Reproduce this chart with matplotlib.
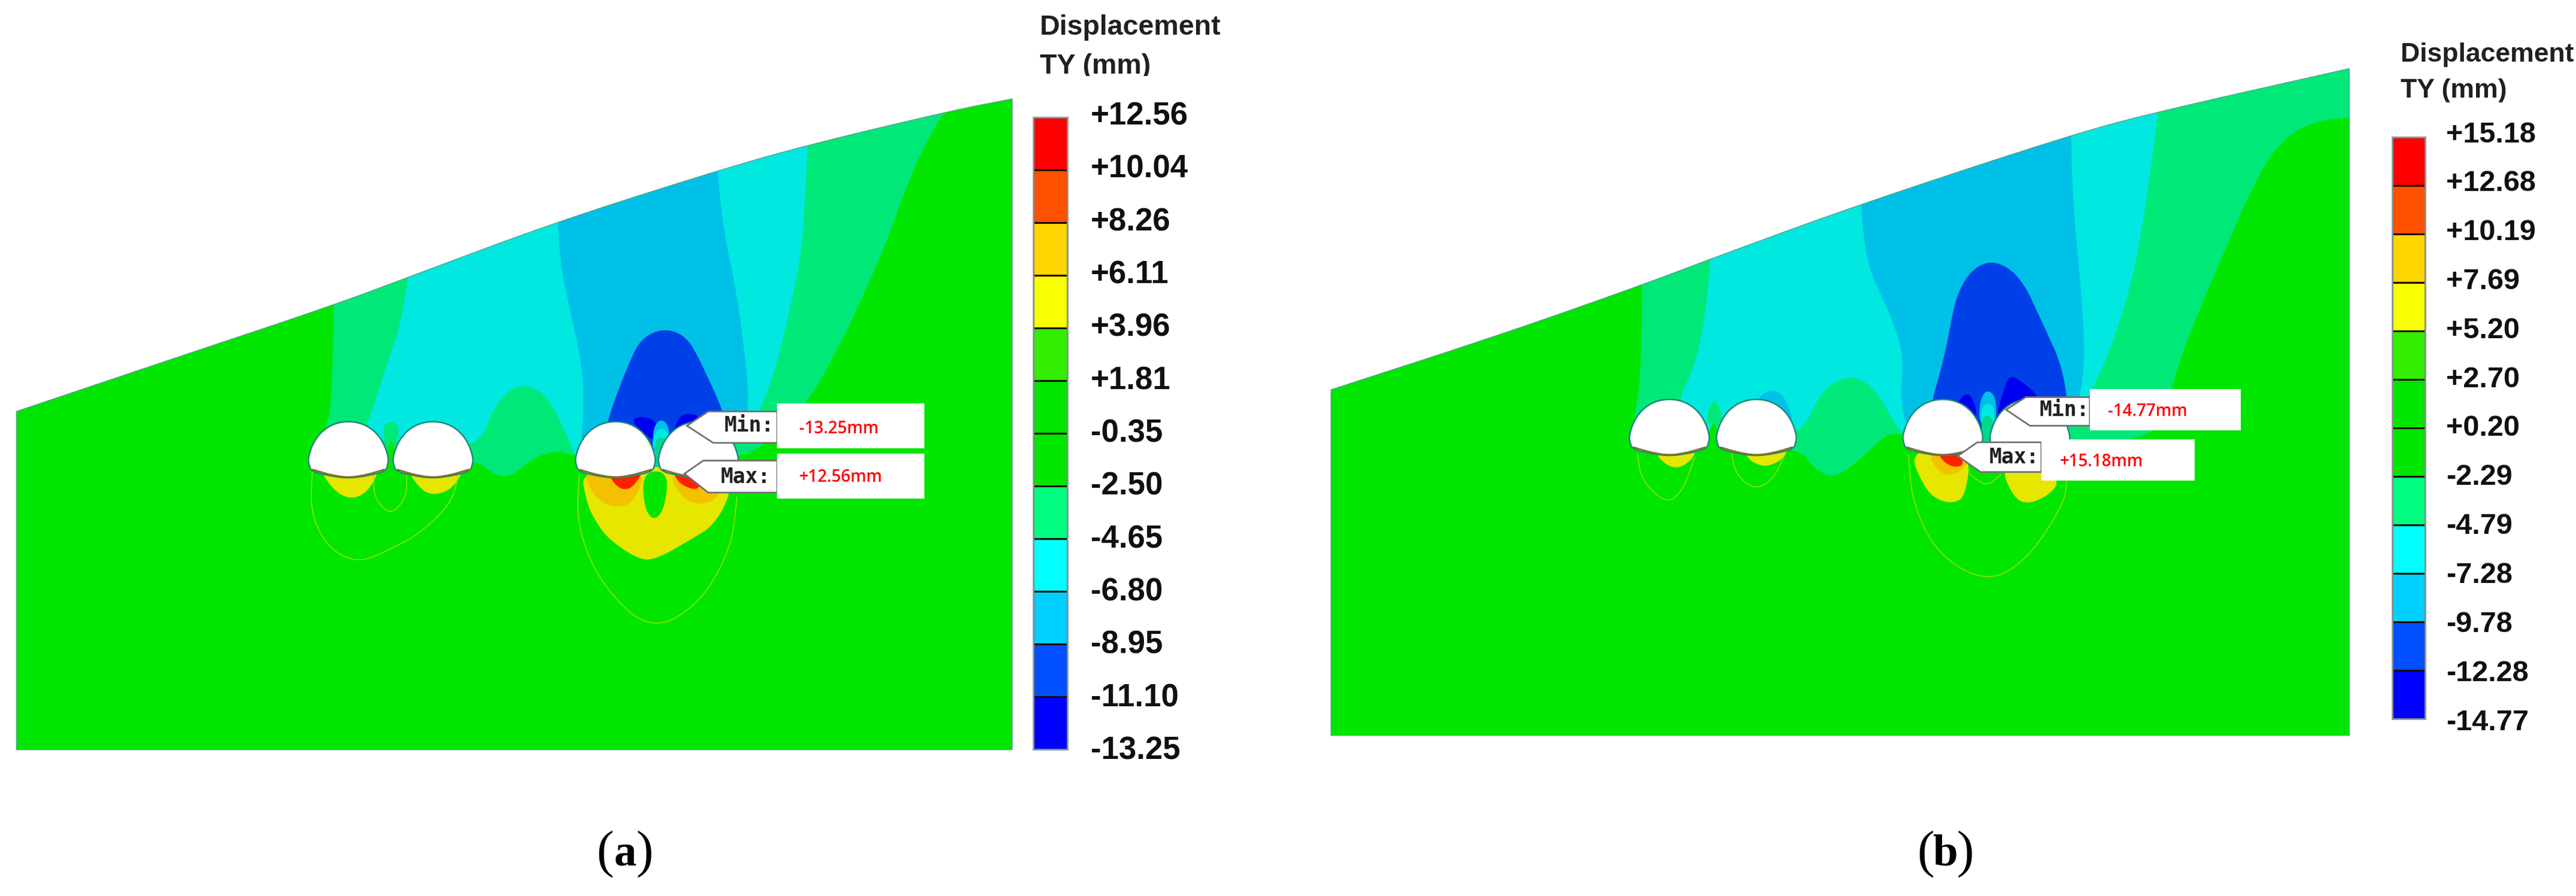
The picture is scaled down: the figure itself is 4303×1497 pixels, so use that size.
import numpy as np
import matplotlib
matplotlib.use('Agg')
import matplotlib.pyplot as plt
from matplotlib.patches import Polygon, Rectangle

# colours of the contour bands, bar top to bottom
band_colours = ['#ff0000', '#ff5000', '#ffd500', '#f8ff00', '#33ee00', '#00e600',
                '#00e600', '#00ff80', '#00ffff', '#00d0ff', '#0050ff', '#0000ff']
levels_a = [12.56, 10.04, 8.26, 6.11, 3.96, 1.81, -0.35, -2.50, -4.65, -6.80, -8.95, -11.10, -13.25]
levels_b = [15.18, 12.68, 10.19, 7.69, 5.20, 2.70, 0.20, -2.29, -4.79, -7.28, -9.78, -12.28, -14.77]

GREEN = '#00e600'
TEAL = '#00e878'
CYAN = '#00e8e0'
SKY = '#00c0e8'
BLUE = '#0040e8'
DARK = '#0000f0'
YELLOW = '#e6e600'
ORANGE = '#f5c000'
RED = '#ff2000'

# all outlines, tops run on past the surface and get clipped
surface_a = [(20, 720), (210, 628), (408, 533), (510, 478), (678, 388), (870, 300), (982, 254), (1160, 193), (1232, 173)]
teal_a = [(408, 300), (408, 100), (1190, 50), (1170, 150), (1130, 240), (1105, 320), (1080, 420), (1050, 520),
          (1020, 610), (985, 700), (945, 760), (900, 808), (700, 800), (680, 788), (650, 800), (622, 835), (600, 830),
          (575, 800), (380, 800), (395, 760), (405, 700)]
cyan_a = [(515, 300), (525, 100), (1000, 60), (985, 200), (980, 350), (975, 450), (960, 550), (945, 640), (930, 700),
          (905, 790), (710, 800), (700, 800), (690, 760), (665, 690), (635, 670), (605, 700), (580, 790), (500, 770),
          (440, 770), (455, 710), (470, 640), (490, 560)]
sky_a = [(678, 300), (678, 150), (868, 80), (870, 250), (880, 400), (895, 500), (905, 600), (912, 700), (905, 780),
         (705, 800), (710, 740), (710, 650), (695, 550), (680, 450)]
blue_a = [(738, 780), (738, 738), (764, 640), (780, 592), (808, 574), (835, 588), (852, 630), (882, 725), (890, 780)]
dark_a = [[(762, 730), (800, 780), (800, 730)], [(815, 775), (825, 732), (836, 722), (855, 730), (860, 775)]]
pillar_sky_a = [(794, 775), (796, 745), (805, 733), (814, 745), (815, 775)]
pillar_cyan_a = [(793, 785), (796, 758), (805, 748), (814, 758), (816, 785)]
pillar_teal_a = [(790, 840), (800, 795), (796, 773), (805, 764), (814, 773), (809, 795), (818, 840)]
blob_a = [(468, 775), (466, 745), (476, 737), (486, 745), (484, 775)]
green_pillar_a = [(466, 840), (472, 785), (476, 768), (481, 785), (488, 840)]
yellow_a = [[(385, 810), (405, 858), (428, 875), (450, 858), (465, 810)],
            [(490, 810), (512, 858), (530, 867), (553, 853), (568, 810)],
            [(706, 815), (714, 880), (724, 910), (740, 943), (778, 980), (800, 978), (842, 943), (868, 920), (888, 870), (890, 820)]]
green_low_a = [(782, 825), (784, 890), (796, 912), (809, 890), (814, 825)]
orange_a = [[(708, 815), (722, 870), (750, 890), (772, 878), (788, 820)],
            [(813, 825), (828, 868), (849, 885), (876, 872), (876, 825)]]
red_a = [[(736, 820), (752, 856), (770, 856), (786, 815)], [(818, 822), (827, 848), (852, 860), (852, 825)]]
contours_a = [[(380, 825), (378, 900), (400, 960), (435, 985), (470, 965), (510, 935), (550, 880), (558, 830)],
              [(455, 830), (455, 870), (475, 903), (495, 870), (495, 830)],
              [(705, 830), (702, 920), (730, 1020), (790, 1105), (850, 1060), (890, 960), (897, 870)]]
tunnels_a = [(424, 801), (527, 801), (749, 801), (850, 801)]

surface_b = [(52, 682), (260, 585), (432, 498), (520, 450), (695, 358), (953, 236), (1060, 195), (1292, 120)]
teal_b = [(432, 300), (432, 60), (1320, 20), (1320, 205), (1292, 205), (1240, 215), (1200, 260), (1170, 340), (1140, 440),
          (1110, 540), (1080, 650), (1062, 770), (950, 770), (750, 762), (730, 757), (700, 800), (665, 838), (640, 820),
          (620, 780), (420, 770), (422, 720), (430, 660)]
cyan_b = [(522, 300), (530, 60), (1070, 40), (1060, 190), (1045, 350), (1030, 480), (1000, 620), (975, 690), (955, 765),
          (750, 762), (740, 745), (715, 680), (685, 655), (650, 680), (620, 775), (480, 750), (475, 700), (495, 640), (510, 540)]
sky_b = [(695, 250), (695, 100), (953, 60), (953, 220), (955, 350), (965, 500), (970, 620), (965, 690), (950, 760),
         (755, 760), (745, 700), (750, 620), (730, 540), (700, 450)]
sky_blob_b = [(565, 720), (572, 695), (590, 680), (607, 698), (617, 750)]
blue_b = [(780, 760), (782, 710), (800, 620), (815, 500), (850, 451), (890, 478), (920, 570), (945, 650), (952, 760)]
dark_b = [[(812, 735), (814, 703), (830, 683), (842, 735)],
          [(860, 740), (870, 688), (878, 654), (897, 672), (915, 695), (915, 740)]]
pillar_sky_b = [(841, 745), (842, 700), (851, 681), (862, 695), (862, 745)]
pillar_cyan_b = [(843, 750), (844, 715), (851, 705), (860, 712), (860, 750)]
pillar_teal_b = [(842, 800), (845, 745), (843, 735), (851, 725), (859, 735), (857, 745), (860, 800)]
blob_b = [(510, 745), (510, 720), (518, 698), (528, 720), (527, 745)]
green_pillar_b = [(507, 800), (513, 750), (518, 738), (523, 750), (529, 800)]
green_under_b = [(828, 820), (850, 856), (872, 820)]
yellow_b = [[(445, 780), (452, 805), (472, 822), (492, 805), (498, 780)],
            [(553, 780), (560, 805), (580, 818), (602, 805), (610, 780)],
            [(754, 785), (776, 858), (794, 877), (810, 880), (824, 870), (832, 790)],
            [(866, 815), (884, 872), (900, 882), (922, 870), (940, 845), (920, 812)]]
orange_b = [[(776, 790), (794, 831), (816, 830), (832, 800)]]
red_b = [[(788, 790), (804, 817), (824, 816), (816, 790)]]
contours_b = [[(425, 795), (430, 840), (460, 882), (480, 860), (495, 800)],
              [(540, 795), (545, 830), (567, 857), (590, 840), (605, 795)],
              [(755, 795), (760, 880), (790, 970), (850, 1020), (900, 980), (945, 880), (948, 840)],
              [(830, 830), (850, 852), (868, 830)]]
tunnels_b = [(464, 762), (570, 762), (797, 762), (903, 762)]

# half of a tunnel, top to bottom, the other half is mirrored
tunnel_half = [(0, -64), (17, -60), (32, -47), (43, -26), (49, 0), (48, 12), (45, 24), (22, 32), (0, 36)]
tunnel_low = [(-43, 22), (-22, 31), (0, 36), (22, 31), (43, 22)]

# name boxes: white plate, arrow outline
min_plate_a = (946, 706, 1125, 785)
min_arrow_a = [(836, 745), (862, 720), (946, 720), (946, 775), (868, 775)]
max_plate_a = (946, 794, 1125, 873)
max_arrow_a = [(833, 829), (856, 806), (946, 806), (946, 862), (862, 862)]
min_plate_b = (976, 681, 1160, 753)
min_arrow_b = [(874, 717), (898, 695), (976, 695), (976, 745), (903, 745)]
max_plate_b = (917, 769, 1104, 841)
max_arrow_b = [(815, 798), (839, 774), (917, 774), (917, 826), (843, 826)]


def chaikin(pts, n=3, closed=True):
    pts = np.array(pts, dtype=float)
    for _ in range(n):
        if closed:
            a, b = pts, np.roll(pts, -1, axis=0)
        else:
            a, b = pts[:-1], pts[1:]
        q = 0.75 * a + 0.25 * b
        r = 0.25 * a + 0.75 * b
        mid = np.empty((len(q) * 2, 2))
        mid[0::2] = q
        mid[1::2] = r
        if closed:
            pts = mid
        else:
            pts = np.vstack([pts[0], mid, pts[-1]])
    return pts


fig = plt.figure(figsize=(43.03, 14.97), dpi=100)
ax = fig.add_axes([0, 0, 1, 1])
ax.set_xlim(0, 4303)
ax.set_ylim(1497, 0)
ax.axis('off')


def draw_panel(x0, xs, surface, right, bottom, regions, contours, tunnels):
    ys = 1497 / 1568

    def tr(pts):
        p = np.array(pts, dtype=float)
        return np.column_stack([x0 + p[:, 0] * xs, p[:, 1] * ys])

    surf = chaikin(surface, n=3, closed=False)
    outline = np.vstack([surf, [(right, bottom), (surface[0][0], bottom)]])
    ground = Polygon(tr(outline), closed=True, facecolor=GREEN, edgecolor='none', zorder=1)
    ax.add_patch(ground)
    for colour, pts in regions:
        p = Polygon(tr(chaikin(pts)), closed=True, facecolor=colour, edgecolor='none', zorder=2)
        ax.add_patch(p)
        p.set_clip_path(ground)
    ax.add_patch(Polygon(tr(outline), closed=True, fill=False, edgecolor='#58a090', lw=1, zorder=3))
    for line in contours:
        xy = tr(chaikin(line, closed=False))
        ax.plot(xy[:, 0], xy[:, 1], color='#a0e400', lw=1, zorder=3)
    right_side = np.array(tunnel_half)
    left_side = right_side[-2:0:-1] * [-1, 1]
    egg = np.vstack([right_side, left_side])
    for cx, cy in tunnels:
        c = chaikin(egg, n=3) + np.array([cx, cy])
        ax.add_patch(Polygon(tr(c), closed=True, facecolor='white', edgecolor='#208878', lw=1.8, zorder=4))
        xy = tr(chaikin(tunnel_low, n=2, closed=False) + np.array([cx, cy - 1]))
        ax.plot(xy[:, 0], xy[:, 1], color='#807028', lw=2, zorder=5)


def label_box(x0, xs, box, tip, name, name_xy, value, value_xy):
    ys = 1497 / 1568
    bx0, by0, bx1, by1 = box
    arrow = np.array(tip, dtype=float)
    arrow = np.column_stack([x0 + arrow[:, 0] * xs, arrow[:, 1] * ys])
    ax.add_patch(Polygon(arrow, closed=True, facecolor='white', edgecolor='#707070', lw=2, zorder=6))
    ax.add_patch(Rectangle((x0 + bx0 * xs, by0 * ys), (bx1 - bx0) * xs, (by1 - by0) * ys,
                           facecolor='white', edgecolor='none', zorder=7))
    ax.text(x0 + name_xy[0] * xs, name_xy[1] * ys, name, family='DejaVu Sans Mono', weight='bold',
            fontsize=25, color='#202020', ha='center', va='center', zorder=8)
    ax.text(x0 + value_xy[0] * xs, value_xy[1] * ys, value, family='Open Sans', weight='semibold',
            fontsize=20, color='#ff0000', ha='center', va='center', zorder=8)


def colour_bar(box, levels, size, label_x, label_top, label_bottom):
    left, top, w, h = box
    cax = fig.add_axes([left / 4303, 1 - (top + h) / 1497, w / 4303, h / 1497])
    n = len(band_colours)
    cax.bar(np.zeros(n), np.ones(n), width=1, bottom=np.arange(n)[::-1], color=band_colours,
            edgecolor='#1a0a00', linewidth=2.2)
    cax.set_xlim(-0.5, 0.5)
    cax.set_ylim(0, n)
    cax.set_xticks([])
    cax.set_yticks([])
    for s in cax.spines.values():
        s.set_color('#8c9898')
        s.set_linewidth(2)
    for v, y in zip(levels, np.linspace(label_top, label_bottom, len(levels))):
        ax.text(label_x, y, '%+.2f' % v, family='Liberation Sans', weight='bold', fontsize=size,
                color='#101010', va='center_baseline')


xs_a = 2152 / 1568
xs_b = 2151 / 1568
regions_a = [(TEAL, teal_a), (CYAN, cyan_a), (SKY, sky_a), (BLUE, blue_a)]
regions_a += [(DARK, p) for p in dark_a]
regions_a += [(SKY, pillar_sky_a), (CYAN, pillar_cyan_a), ('#00d890', pillar_teal_a), (TEAL, blob_a), (GREEN, green_pillar_a)]
regions_a += [(YELLOW, p) for p in yellow_a] + [(GREEN, green_low_a)]
regions_a += [(ORANGE, p) for p in orange_a] + [(RED, p) for p in red_a]
draw_panel(0, xs_a, surface_a, 1232, 1312, regions_a, contours_a, tunnels_a)

regions_b = [(TEAL, teal_b), (CYAN, cyan_b), (SKY, sky_b), (SKY, sky_blob_b), (BLUE, blue_b)]
regions_b += [(DARK, p) for p in dark_b]
regions_b += [(SKY, pillar_sky_b), (CYAN, pillar_cyan_b), ('#00d890', pillar_teal_b), (TEAL, blob_b), (GREEN, green_pillar_b)]
regions_b += [(YELLOW, p) for p in yellow_b] + [(GREEN, green_under_b)]
regions_b += [(ORANGE, p) for p in orange_b] + [(RED, p) for p in red_b]
draw_panel(2152, xs_b, surface_b, 1292, 1287, regions_b, contours_b, tunnels_b)

label_box(0, xs_a, min_plate_a, min_arrow_a, 'Min:', (912, 745), '-13.25mm', (1021, 750))
label_box(0, xs_a, max_plate_a, max_arrow_a, 'Max:', (907, 834), '+12.56mm', (1023, 835))
label_box(2152, xs_b, min_plate_b, min_arrow_b, 'Min:', (945, 718), '-14.77mm', (1046, 720))
label_box(2152, xs_b, max_plate_b, max_arrow_b, 'Max:', (884, 800), '+15.18mm', (990, 808))

colour_bar((1726, 196, 57, 1056), levels_a, 38, 1822, 189, 1249)
colour_bar((3996, 229, 55, 972), levels_b, 35, 4086, 220, 1202)

# legend heads, the second line is cut off in the picture
ax.text(1737, 46, 'Displacement', family='Liberation Sans', weight='bold', fontsize=33.5, va='center', color='#202020')
ax.text(1737, 111, 'TY (mm)', family='Liberation Sans', weight='bold', fontsize=33.5, va='center', color='#202020')
ax.add_patch(Rectangle((1700, 127), 400, 30, facecolor='white', edgecolor='none', zorder=9))
ax.text(4010, 92, 'Displacement', family='Liberation Sans', weight='bold', fontsize=32, va='center', color='#202020')
ax.text(4010, 152, 'TY (mm)', family='Liberation Sans', weight='bold', fontsize=32, va='center', color='#202020')
ax.add_patch(Rectangle((3990, 171), 300, 30, facecolor='white', edgecolor='none', zorder=9))

# captions
for cx, letter in [(1044, 'a'), (3250, 'b')]:
    ax.text(cx - 33, 1427, '(', family='Liberation Serif', fontsize=62, ha='center', va='center')
    ax.text(cx, 1427, letter, family='Liberation Serif', weight='bold', fontsize=54, ha='center', va='center')
    ax.text(cx + 33, 1427, ')', family='Liberation Serif', fontsize=62, ha='center', va='center')

fig.savefig('out.png', dpi=100, facecolor='white')
